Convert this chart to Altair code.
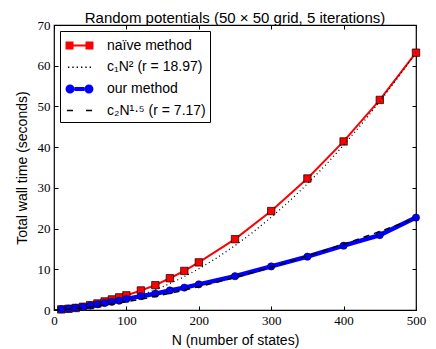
import altair as alt
import pandas as pd

# ---- data ----
N_pts = [10, 20, 30, 40, 50, 60, 70, 80, 90, 100, 120, 140, 160, 180, 200, 250, 300, 350, 400, 450, 500]
naive_t = [0.15, 0.3, 0.5, 0.8, 1.2, 1.6, 2.1, 2.6, 3.1, 3.6, 4.8, 6.1, 7.8, 9.6, 11.7, 17.4, 24.3, 32.3, 41.4, 51.6, 63.2]
ours_t = [0.2, 0.35, 0.55, 0.75, 1.1, 1.4, 1.7, 2.0, 2.3, 2.7, 3.4, 4.0, 4.8, 5.5, 6.3, 8.3, 10.7, 13.1, 15.8, 18.4, 22.7]

N_fit = [0, 25, 50, 75, 100, 125, 150, 175, 200, 225, 250, 275, 300, 325, 350, 375, 400, 425, 450, 475, 500]
fit1_t = [0.0, 0.16, 0.63, 1.42, 2.53, 3.95, 5.69, 7.75, 10.12, 12.81, 15.81, 19.13, 22.77, 26.72, 30.99,
          35.58, 40.48, 45.70, 51.23, 57.08, 63.25]
fit2_t = [0.0, 0.25, 0.71, 1.31, 2.02, 2.82, 3.71, 4.68, 5.71, 6.82, 7.99, 9.21, 10.50, 11.84, 13.23,
          14.67, 16.16, 17.70, 19.28, 20.91, 22.58]

series_labels = ["naïve method", "c₁N² (r = 18.97)", "our method", "c₂N¹·⁵ (r = 7.17)"]
series_colors = ["#ff0000", "#000000", "#0000ff", "#000000"]

x_ticks = [0, 100, 200, 300, 400, 500]
y_ticks = [0, 10, 20, 30, 40, 50, 60, 70]

# legend glyphs (line + markers), unit coordinates
sym_naive = ("M-1.33,-0.38H-0.57V0.38H-1.33Z M0.57,-0.38H1.33V0.38H0.57Z "
             "M-0.57,-0.1H0.57V0.1H-0.57Z")
sym_dot = " ".join(
    f"M{c-0.065:.3f},-0.065H{c+0.065:.3f}V0.065H{c-0.065:.3f}Z"
    for c in [-1.03, -0.62, -0.21, 0.21, 0.62, 1.03])
sym_ours = ("M-1.33,0A0.43,0.43 0 1,0 -0.47,0A0.43,0.43 0 1,0 -1.33,0Z "
            "M0.47,0A0.43,0.43 0 1,0 1.33,0A0.43,0.43 0 1,0 0.47,0Z "
            "M-0.47,-0.19H0.47V0.19H-0.47Z")
sym_dash = "M-1.2,-0.07H-0.62V0.07H-1.2Z M0.62,-0.07H1.2V0.07H0.62Z"
series_symbols = [sym_naive, sym_dot, sym_ours, sym_dash]

df_naive = pd.DataFrame({"N": N_pts, "t": naive_t})
df_ours = pd.DataFrame({"N": N_pts, "t": ours_t})
df_fit1 = pd.DataFrame({"N": N_fit, "t": fit1_t})
df_fit2 = pd.DataFrame({"N": N_fit, "t": fit2_t})
df_leg = pd.DataFrame({"series": series_labels, "N": [0] * 4, "t": [0] * 4})

xs = alt.Scale(domain=[0, 500], nice=False, zero=False)
ys = alt.Scale(domain=[0, 70], nice=False, zero=False)

SERIF = "Liberation Serif"
SANS = "Liberation Sans"

ax_bottom = alt.Axis(orient="bottom", values=x_ticks, tickSize=4, offset=-4, domain=False, grid=False,
                     labelFont=SERIF, labelFontSize=13, labelPadding=4, labelColor="black",
                     labelFlush=False, tickColor="black", title="N (number of states)",
                     titleFont=SANS, titleFontSize=14, titleFontWeight="normal", titleColor="black",
                     titlePadding=6)
ax_left = alt.Axis(orient="left", values=y_ticks, tickSize=4, offset=-4, domain=False, grid=False,
                   labelFont=SERIF, labelFontSize=13, labelPadding=4, labelColor="black",
                   labelFlush=False, tickColor="black", title="Total wall time (seconds)",
                   titleFont=SANS, titleFontSize=14, titleFontWeight="normal", titleColor="black",
                   titlePadding=8)
ax_top = alt.Axis(orient="top", values=x_ticks, tickSize=4, offset=-4, domain=False, grid=False,
                  labels=False, tickColor="black", title=None)
ax_right = alt.Axis(orient="right", values=y_ticks, tickSize=4, offset=-4, domain=False, grid=False,
                    labels=False, tickColor="black", title=None)

red_line = alt.Chart(df_naive).mark_line(color="#ff0000", strokeWidth=2).encode(
    x=alt.X("N:Q", scale=xs, axis=ax_bottom), y=alt.Y("t:Q", scale=ys, axis=ax_left))
red_pts = alt.Chart(df_naive).mark_point(shape="square", filled=True, fill="#ff0000", stroke="black",
                                         strokeWidth=0.7, size=55, opacity=1).encode(
    x=alt.X("N:Q", scale=xs, axis=None), y=alt.Y("t:Q", scale=ys, axis=None))
fit1 = alt.Chart(df_fit1).mark_line(color="black", strokeWidth=1.3, strokeDash=[1, 3]).encode(
    x=alt.X("N:Q", scale=xs, axis=None), y=alt.Y("t:Q", scale=ys, axis=None))
blue_line = alt.Chart(df_ours).mark_line(color="#0000ff", strokeWidth=4.5).encode(
    x=alt.X("N:Q", scale=xs, axis=None), y=alt.Y("t:Q", scale=ys, axis=None))
blue_pts = alt.Chart(df_ours).mark_point(shape="circle", filled=True, fill="#0000ff", stroke="#000033",
                                         strokeWidth=0.6, size=52, opacity=1).encode(
    x=alt.X("N:Q", scale=xs, axis=None), y=alt.Y("t:Q", scale=ys, axis=None))
fit2 = alt.Chart(df_fit2).mark_line(color="black", strokeWidth=1.5, strokeDash=[6, 5]).encode(
    x=alt.X("N:Q", scale=xs, axis=ax_top), y=alt.Y("t:Q", scale=ys, axis=ax_right))

leg = alt.Legend(title=None, orient="none", legendX=6, legendY=6, fillColor="white",
                 strokeColor="black", padding=4, cornerRadius=0, symbolSize=441,
                 symbolStrokeWidth=0, symbolOpacity=1, labelFont=SANS, labelFontSize=14,
                 labelColor="black", labelOffset=17, symbolOffset=5, rowPadding=3.7)
legend_layer = alt.Chart(df_leg).mark_point(filled=True, opacity=1).encode(
    x=alt.X("N:Q", scale=xs, axis=None), y=alt.Y("t:Q", scale=ys, axis=None),
    color=alt.Color("series:N", scale=alt.Scale(domain=series_labels, range=series_colors),
                    sort=None, legend=leg),
    shape=alt.Shape("series:N", scale=alt.Scale(domain=series_labels, range=series_symbols),
                    sort=None, legend=leg),
).transform_filter("false")

chart = alt.layer(red_line, red_pts, fit1, blue_line, blue_pts, fit2, legend_layer).resolve_axis(
    x="independent", y="independent"
).properties(
    width=362, height=285,
    title=alt.TitleParams("Random potentials (50 × 50 grid, 5 iterations)", font=SANS, fontSize=15,
                          fontWeight="normal", color="black", anchor="middle", offset=-6.5),
    autosize=alt.AutoSizeParams(type="none"),
    padding={"left": 46, "top": 17, "right": 12, "bottom": 40},
).configure_view(stroke="black", strokeWidth=1.2)

chart.save("out.html", embed_options={"renderer": "svg", "actions": False})
